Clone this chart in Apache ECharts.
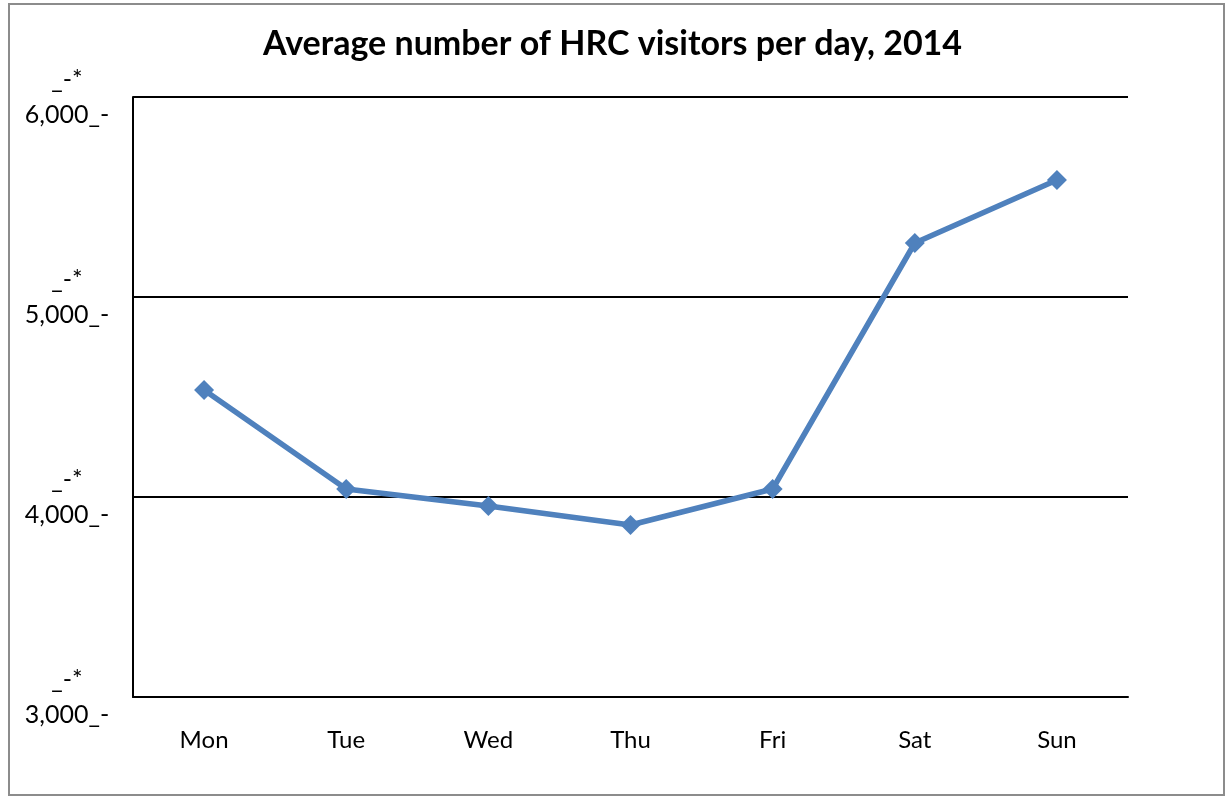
<!DOCTYPE html>
<html>
<head>
<meta charset="utf-8">
<script src="https://cdn.jsdelivr.net/npm/echarts@6/dist/echarts.min.js"></script>
<style>
html,body{margin:0;padding:0;background:#fff;}
#chart{width:1225px;height:797px;}
</style>
</head>
<body>
<div id="chart"></div>
<script>
const titleText = 'Average number of HRC visitors per day, 2014';
const categories = ['Mon', 'Tue', 'Wed', 'Thu', 'Fri', 'Sat', 'Sun'];
const visitors = [4535, 4040, 3955, 3860, 4040, 5270, 5585];
const yMin = 3000, yMax = 6000, yStep = 1000;
const yLabelPrefix = '_-*';
const yLabelSuffix = '_-';

const chart = echarts.init(document.getElementById('chart'), null, {renderer: 'canvas'});
const FONT = 'Lato, "Open Sans", sans-serif';
chart.setOption({
  animation: false,
  backgroundColor: '#ffffff',
  title: {
    text: titleText,
    left: 'center',
    top: 22,
    textStyle: {fontFamily: FONT, fontWeight: 'bold', fontSize: 34, color: '#000'}
  },
  graphic: [{
    type: 'rect',
    shape: {x: 9, y: 4, width: 1215, height: 791},
    style: {fill: 'none', stroke: '#8c8c8c', lineWidth: 2},
    silent: true,
    z: -1
  }],
  grid: {left: 133, right: 97, top: 97, bottom: 100, containLabel: false},
  xAxis: {
    type: 'category',
    data: categories,
    boundaryGap: true,
    axisLine: {show: true, lineStyle: {color: '#000', width: 2}},
    axisTick: {show: false},
    axisLabel: {fontFamily: FONT, fontSize: 24, color: '#000', margin: 31}
  },
  yAxis: {
    type: 'value',
    min: yMin, max: yMax, interval: yStep,
    axisLine: {show: true, lineStyle: {color: '#000', width: 2}},
    axisTick: {show: false},
    splitLine: {show: true, lineStyle: {color: '#000', width: 2}},
    axisLabel: {
      margin: 66,
      align: 'center',
      fontFamily: FONT, fontSize: 25, color: '#000',
      lineHeight: 35,
      padding: [20, 0, 0, 0],
      formatter: function (v) {
        return yLabelPrefix + '\n' + v.toLocaleString('en-US') + yLabelSuffix;
      }
    }
  },
  series: [{
    type: 'line',
    data: visitors,
    symbol: 'diamond',
    symbolSize: 20,
    lineStyle: {color: '#4f81bd', width: 5.5},
    itemStyle: {color: '#4f81bd'}
  }]
});
</script>
</body>
</html>
